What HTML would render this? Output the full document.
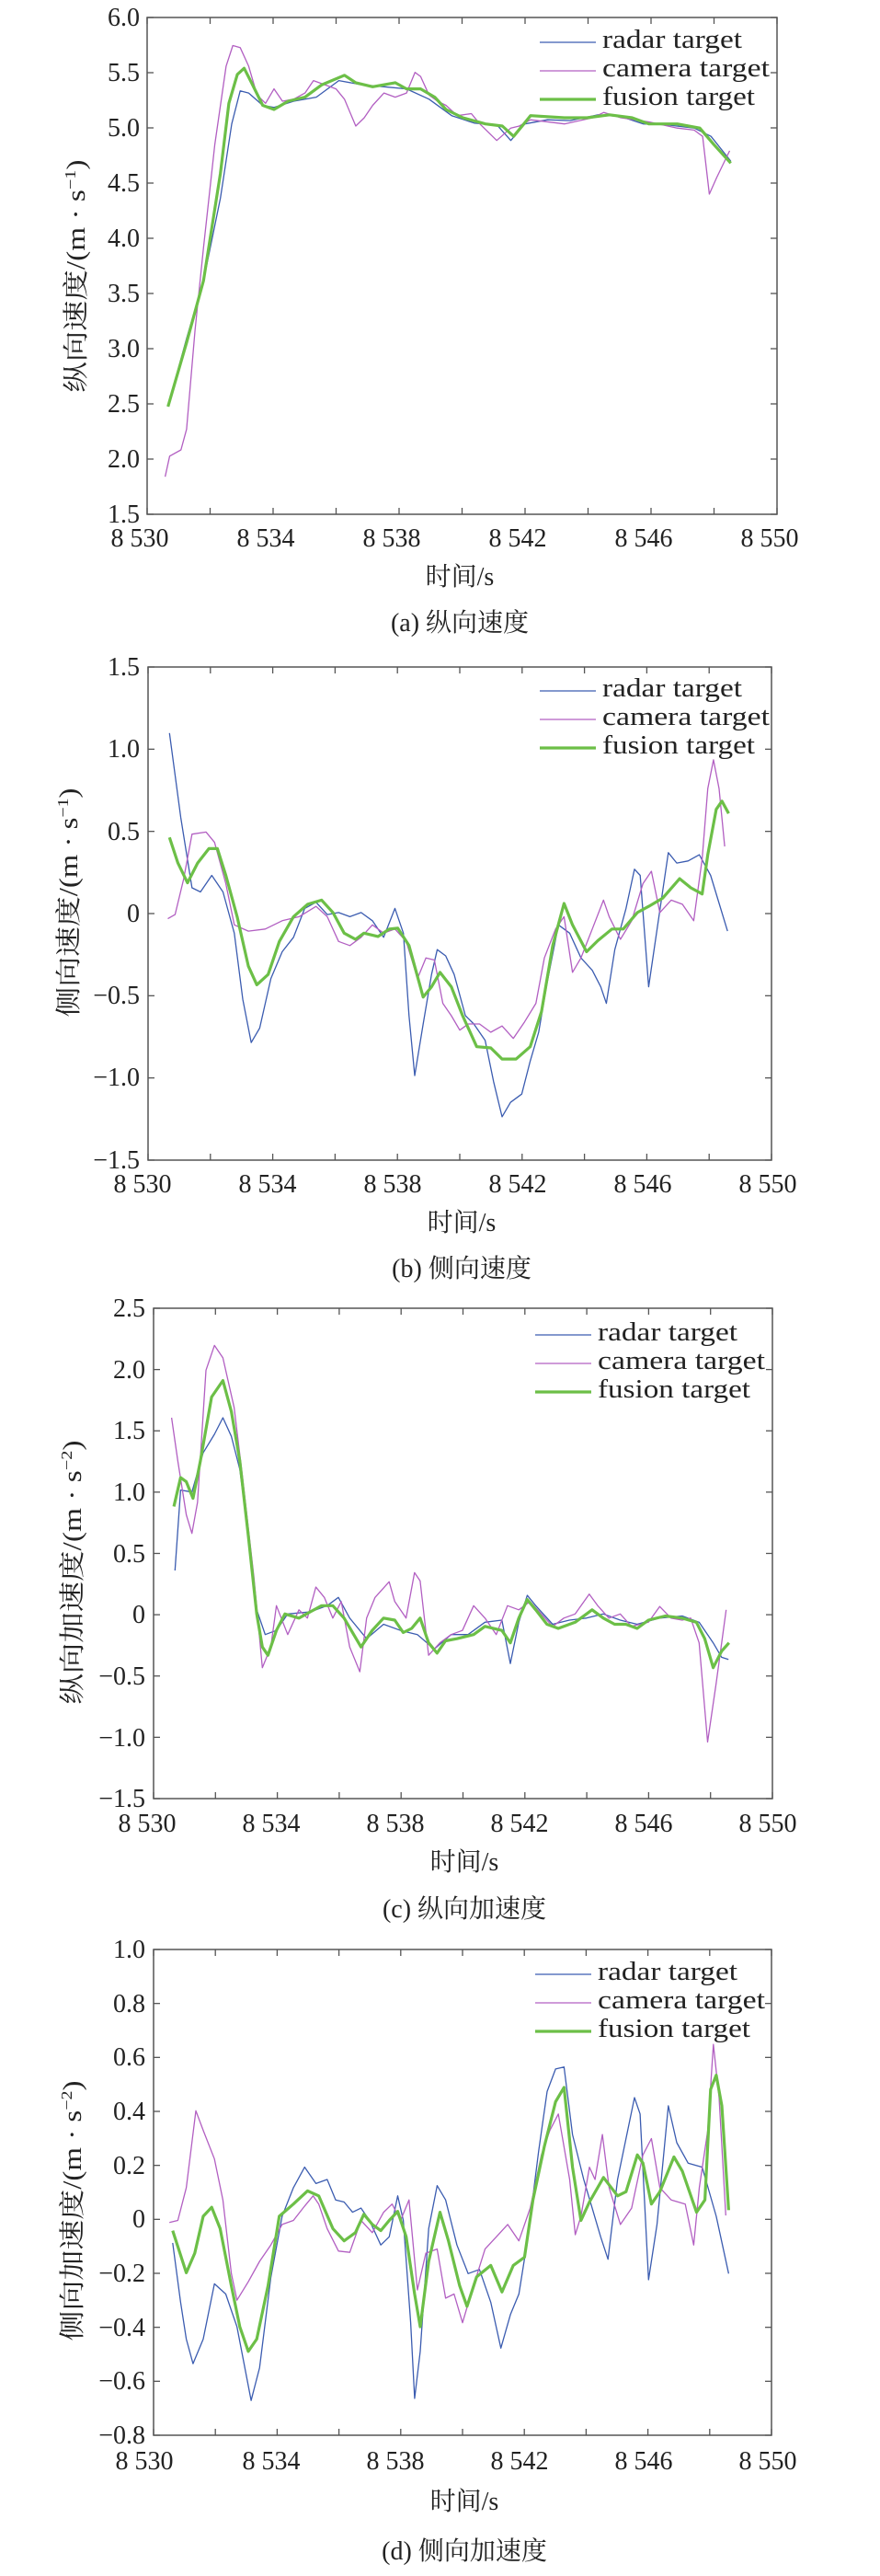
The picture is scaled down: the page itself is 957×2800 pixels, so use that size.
<!DOCTYPE html>
<html><head><meta charset="utf-8"><style>
html,body{margin:0;padding:0;background:#fff}
svg{display:block}
text{font-family:"Liberation Serif","Noto Serif CJK SC",serif;fill:#222}
</style></head><body>
<svg id="s" width="957" height="2800" viewBox="0 0 957 2800" xmlns="http://www.w3.org/2000/svg">
<g id="plots"></g>
<!-- Panel a texts -->
<g font-size="28">
<text x="152" y="28" text-anchor="end">6.0</text>
<text x="152" y="88" text-anchor="end">5.5</text>
<text x="152" y="148" text-anchor="end">5.0</text>
<text x="152" y="208" text-anchor="end">4.5</text>
<text x="152" y="268" text-anchor="end">4.0</text>
<text x="152" y="328" text-anchor="end">3.5</text>
<text x="152" y="388" text-anchor="end">3.0</text>
<text x="152" y="448" text-anchor="end">2.5</text>
<text x="152" y="508" text-anchor="end">2.0</text>
<text x="152" y="568" text-anchor="end">1.5</text>
<text x="152" y="594" text-anchor="middle">8 530</text>
<text x="289" y="594" text-anchor="middle">8 534</text>
<text x="426" y="594" text-anchor="middle">8 538</text>
<text x="563" y="594" text-anchor="middle">8 542</text>
<text x="700" y="594" text-anchor="middle">8 546</text>
<text x="837" y="594" text-anchor="middle">8 550</text>
<text x="500" y="636" text-anchor="middle">时间/s</text>
<text x="500" y="686" text-anchor="middle">(a) 纵向速度</text>
<text transform="translate(92,300) rotate(-90)" text-anchor="middle" textLength="253" lengthAdjust="spacingAndGlyphs">纵向速度/(m · s<tspan font-size="17" dy="-10">−1</tspan><tspan dy="10">)</tspan></text>
<text x="655" y="52" textLength="152" lengthAdjust="spacingAndGlyphs">radar target</text>
<text x="655" y="83" textLength="182" lengthAdjust="spacingAndGlyphs">camera target</text>
<text x="655" y="114" textLength="166" lengthAdjust="spacingAndGlyphs">fusion target</text>
</g>
<!-- Panel b -->
<g font-size="28">
<text x="152" y="734" text-anchor="end">1.5</text>
<text x="152" y="823" text-anchor="end">1.0</text>
<text x="152" y="913" text-anchor="end">0.5</text>
<text x="152" y="1002" text-anchor="end">0</text>
<text x="152" y="1091" text-anchor="end">−0.5</text>
<text x="152" y="1180" text-anchor="end">−1.0</text>
<text x="152" y="1270" text-anchor="end">−1.5</text>
<text x="155" y="1296" text-anchor="middle">8 530</text>
<text x="291" y="1296" text-anchor="middle">8 534</text>
<text x="427" y="1296" text-anchor="middle">8 538</text>
<text x="563" y="1296" text-anchor="middle">8 542</text>
<text x="699" y="1296" text-anchor="middle">8 546</text>
<text x="835" y="1296" text-anchor="middle">8 550</text>
<text x="502" y="1338" text-anchor="middle">时间/s</text>
<text x="502" y="1388" text-anchor="middle">(b) 侧向速度</text>
<text transform="translate(84,981) rotate(-90)" text-anchor="middle" textLength="249" lengthAdjust="spacingAndGlyphs">侧向速度/(m · s<tspan font-size="17" dy="-10">−1</tspan><tspan dy="10">)</tspan></text>
<text x="655" y="757" textLength="152" lengthAdjust="spacingAndGlyphs">radar target</text>
<text x="655" y="788" textLength="182" lengthAdjust="spacingAndGlyphs">camera target</text>
<text x="655" y="819" textLength="166" lengthAdjust="spacingAndGlyphs">fusion target</text>
</g>
<!-- Panel c -->
<g font-size="28">
<text x="158" y="1431" text-anchor="end">2.5</text>
<text x="158" y="1498" text-anchor="end">2.0</text>
<text x="158" y="1564" text-anchor="end">1.5</text>
<text x="158" y="1631" text-anchor="end">1.0</text>
<text x="158" y="1698" text-anchor="end">0.5</text>
<text x="158" y="1764" text-anchor="end">0</text>
<text x="158" y="1831" text-anchor="end">−0.5</text>
<text x="158" y="1898" text-anchor="end">−1.0</text>
<text x="158" y="1964" text-anchor="end">−1.5</text>
<text x="160" y="1991" text-anchor="middle">8 530</text>
<text x="295" y="1991" text-anchor="middle">8 534</text>
<text x="430" y="1991" text-anchor="middle">8 538</text>
<text x="565" y="1991" text-anchor="middle">8 542</text>
<text x="700" y="1991" text-anchor="middle">8 546</text>
<text x="835" y="1991" text-anchor="middle">8 550</text>
<text x="505" y="2033" text-anchor="middle">时间/s</text>
<text x="505" y="2084" text-anchor="middle">(c) 纵向加速度</text>
<text transform="translate(88,1709) rotate(-90)" text-anchor="middle" textLength="287" lengthAdjust="spacingAndGlyphs">纵向加速度/(m · s<tspan font-size="17" dy="-10">−2</tspan><tspan dy="10">)</tspan></text>
<text x="650" y="1457" textLength="152" lengthAdjust="spacingAndGlyphs">radar target</text>
<text x="650" y="1488" textLength="182" lengthAdjust="spacingAndGlyphs">camera target</text>
<text x="650" y="1519" textLength="166" lengthAdjust="spacingAndGlyphs">fusion target</text>
</g>
<!-- Panel d -->
<g font-size="28">
<text x="158" y="2128" text-anchor="end">1.0</text>
<text x="158" y="2187" text-anchor="end">0.8</text>
<text x="158" y="2245" text-anchor="end">0.6</text>
<text x="158" y="2304" text-anchor="end">0.4</text>
<text x="158" y="2363" text-anchor="end">0.2</text>
<text x="158" y="2421" text-anchor="end">0</text>
<text x="158" y="2480" text-anchor="end">−0.2</text>
<text x="158" y="2539" text-anchor="end">−0.4</text>
<text x="158" y="2597" text-anchor="end">−0.6</text>
<text x="158" y="2656" text-anchor="end">−0.8</text>
<text x="157" y="2684" text-anchor="middle">8 530</text>
<text x="295" y="2684" text-anchor="middle">8 534</text>
<text x="430" y="2684" text-anchor="middle">8 538</text>
<text x="565" y="2684" text-anchor="middle">8 542</text>
<text x="700" y="2684" text-anchor="middle">8 546</text>
<text x="835" y="2684" text-anchor="middle">8 550</text>
<text x="505" y="2728" text-anchor="middle">时间/s</text>
<text x="505" y="2782" text-anchor="middle">(d) 侧向加速度</text>
<text transform="translate(88,2403) rotate(-90)" text-anchor="middle" textLength="283" lengthAdjust="spacingAndGlyphs">侧向加速度/(m · s<tspan font-size="17" dy="-10">−2</tspan><tspan dy="10">)</tspan></text>
<text x="650" y="2152" textLength="152" lengthAdjust="spacingAndGlyphs">radar target</text>
<text x="650" y="2183" textLength="182" lengthAdjust="spacingAndGlyphs">camera target</text>
<text x="650" y="2214" textLength="166" lengthAdjust="spacingAndGlyphs">fusion target</text>
</g>
</svg>
<script>
(function(){
var NS="http://www.w3.org/2000/svg",g=document.getElementById("plots");
function el(n,a){var e=document.createElementNS(NS,n);for(var k in a)e.setAttribute(k,a[k]);g.appendChild(e);return e;}
var panels=[
{L:160,R:845,T:19,B:559,pL:260,pR:1377,pT:42,pB:1246,ny:9,lx:587,ly:46,
r:[[297,985],[330,820],[360,680],[390,480],[410,300],[425,220],[440,225],[465,255],[485,260],[520,245],[560,235],[600,195],[640,205],[680,210],[720,215],[760,240],[800,280],[840,298],[880,302],[905,340],[930,300],[970,290],[1010,292],[1060,278],[1100,282],[1140,300],[1180,302],[1230,310],[1260,330],[1295,390]],
c:[[292,1155],[300,1105],[320,1090],[330,1040],[345,800],[360,600],[380,350],[400,160],[412,110],[425,115],[440,160],[455,230],[470,250],[485,215],[500,245],[520,240],[540,225],[555,195],[575,205],[595,215],[610,240],[630,305],[645,285],[660,255],[680,225],[700,235],[720,225],[735,175],[745,185],[760,230],[775,245],[790,255],[810,280],[835,275],[850,300],[880,340],[905,310],[920,305],[940,290],[1000,300],[1050,285],[1070,272],[1100,285],[1150,295],[1200,310],[1230,315],[1245,330],[1257,470],[1270,430],[1293,365]],
f:[[297,985],[330,830],[360,680],[390,420],[405,250],[420,180],[432,165],[445,200],[465,255],[485,265],[510,245],[540,235],[570,205],[610,182],[630,200],[660,210],[700,200],[720,215],[745,215],[770,235],[790,265],[820,285],[860,300],[890,305],[910,330],[940,280],[1000,285],[1040,285],[1080,278],[1120,285],[1150,300],[1200,300],[1240,310],[1265,350],[1295,395]]},
{L:161,R:839,T:725,B:1261,pL:262,pR:1368,pT:55,pB:1250,ny:6,lx:587,ly:751,
r:[[300,215],[320,420],[340,590],[355,600],[375,560],[395,600],[415,700],[430,860],[445,965],[460,930],[480,810],[500,745],[520,710],[540,640],[560,625],[580,655],[600,650],[620,660],[640,650],[660,670],[680,710],[700,640],[715,700],[725,900],[735,1045],[750,920],[765,800],[775,740],[790,755],[805,800],[825,900],[840,920],[860,960],[875,1060],[890,1145],[905,1110],[925,1090],[940,1010],[955,940],[970,820],[990,680],[1010,700],[1030,760],[1050,790],[1065,830],[1075,870],[1090,740],[1110,640],[1125,545],[1135,560],[1150,830],[1165,690],[1185,505],[1200,530],[1220,525],[1240,510],[1260,560],[1290,695]],
c:[[297,665],[310,655],[325,570],[340,460],[365,455],[380,480],[400,580],[415,680],[440,695],[470,690],[500,670],[530,660],[560,635],[580,660],[600,720],[620,730],[640,710],[660,680],[680,700],[700,690],[720,720],[740,810],[755,760],[770,765],[785,870],[800,900],[815,935],[830,920],[850,920],[870,940],[890,925],[910,955],[930,915],[950,870],[965,760],[985,690],[1000,660],[1015,795],[1030,760],[1050,690],[1070,620],[1080,660],[1100,715],[1120,670],[1140,580],[1155,550],[1170,650],[1190,620],[1210,630],[1230,670],[1245,520],[1255,350],[1265,280],[1275,350],[1285,490]],
f:[[300,468],[315,530],[332,578],[350,530],[370,495],[385,495],[400,560],[420,660],[440,780],[455,825],[475,800],[495,720],[520,660],[545,630],[570,620],[590,650],[610,700],[630,715],[645,700],[670,708],[690,690],[705,688],[725,730],[750,855],[765,830],[780,795],[800,830],[820,900],[845,975],[870,978],[890,1005],[915,1005],[940,975],[960,890],[980,730],[1000,628],[1015,680],[1040,745],[1060,718],[1085,690],[1105,690],[1130,650],[1150,635],[1175,615],[1205,568],[1225,590],[1245,605],[1255,510],[1270,400],[1280,380],[1292,410]]},
{L:167,R:840,T:1422,B:1955,pL:272,pR:1370,pT:50,pB:1237,ny:8,lx:582,ly:1451,
r:[[310,685],[320,490],[340,495],[360,400],[380,355],[395,315],[410,360],[425,440],[440,600],[455,780],[470,840],[490,830],[510,790],[550,785],[580,770],[600,750],[620,800],[650,850],[680,815],[710,830],[740,840],[770,875],[800,840],[830,840],[860,810],[890,805],[905,910],[920,810],[935,745],[950,770],[980,815],[1010,805],[1040,800],[1070,790],[1100,805],[1130,815],[1170,800],[1210,795],[1240,810],[1265,860],[1280,895],[1292,900]],
c:[[304,315],[315,420],[330,550],[340,595],[350,520],[365,200],[380,140],[395,170],[415,290],[430,460],[450,700],[465,920],[480,870],[490,770],[510,840],[530,780],[545,800],[560,725],[575,750],[590,800],[605,760],[620,870],[638,930],[650,800],[665,750],[690,712],[700,760],[720,800],[735,690],[745,710],[760,890],[780,860],[800,840],[820,830],[840,770],[860,800],[880,840],[900,770],[920,780],[940,760],[960,790],[980,820],[1000,800],[1020,790],[1045,742],[1060,770],[1080,800],[1100,790],[1120,820],[1150,810],[1170,772],[1190,800],[1210,805],[1225,800],[1240,860],[1255,1100],[1270,960],[1288,780]],
f:[[308,530],[320,460],[330,470],[342,510],[355,420],[375,265],[395,225],[410,300],[425,420],[440,600],[455,790],[465,870],[475,890],[490,830],[505,790],[530,800],[550,785],[570,770],[590,770],[610,800],[640,870],[660,830],[680,800],[700,805],[715,835],[730,825],[745,800],[760,860],[775,885],[790,855],[810,850],[840,840],[860,820],[890,830],[905,860],[920,800],[935,755],[950,780],[970,815],[990,825],[1020,810],[1050,780],[1070,800],[1090,815],[1110,815],[1130,825],[1150,805],[1180,795],[1210,800],[1235,810],[1250,850],[1265,920],[1280,880],[1293,860]]},
{L:167,R:839,T:2119,B:2647,pL:272,pR:1368,pT:38,pB:1225,ny:9,lx:582,ly:2146,
r:[[306,755],[320,900],[330,990],[342,1050],[360,990],[380,855],[400,880],[420,960],[445,1140],[460,1060],[480,840],[500,690],[520,620],[540,570],[560,610],[580,600],[595,650],[610,655],[625,680],[640,670],[655,700],[675,760],[690,740],[705,640],[715,700],[728,950],[735,1135],[745,1020],[760,720],[775,615],[790,650],[810,760],[830,830],[850,820],[870,900],[888,1012],[905,930],[920,880],[935,750],[955,530],[970,385],[985,330],[1000,325],[1015,490],[1035,600],[1050,670],[1065,740],[1078,795],[1095,600],[1110,500],[1125,400],[1135,440],[1150,845],[1165,710],[1185,420],[1200,510],[1220,560],[1245,570],[1270,690],[1292,830]],
c:[[300,705],[315,700],[330,620],[347,432],[360,480],[380,550],[395,650],[410,830],[420,895],[440,850],[460,800],[480,760],[500,710],[520,700],[540,665],[555,640],[565,660],[580,720],[600,775],[620,778],[640,700],[660,730],[680,680],[695,660],[710,700],[725,650],[740,870],[755,780],[775,770],[790,890],[805,880],[820,950],[835,880],[860,770],[880,740],[900,710],[920,750],[940,670],[960,540],[975,480],[990,440],[1010,600],[1020,735],[1030,690],[1045,570],[1055,600],[1068,490],[1080,620],[1100,710],[1120,670],[1140,540],[1155,500],[1170,620],[1190,650],[1215,660],[1230,760],[1240,620],[1255,480],[1265,270],[1275,400],[1287,688]],
f:[[306,725],[330,828],[345,780],[360,690],[375,668],[390,720],[410,860],[425,960],[440,1020],[455,990],[475,860],[495,690],[520,660],[545,628],[565,640],[590,720],[610,750],[630,730],[645,685],[660,710],[675,725],[690,700],[705,678],[720,740],[735,880],[745,960],[760,800],[780,680],[795,750],[815,860],[828,910],[845,838],[870,810],[890,875],[910,810],[930,790],[945,650],[965,520],[985,410],[1000,375],[1015,570],[1030,700],[1045,655],[1070,595],[1095,640],[1110,630],[1130,540],[1140,560],[1155,660],[1170,630],[1195,545],[1210,580],[1235,680],[1250,650],[1260,380],[1270,345],[1280,420],[1292,675]]}
];
panels.forEach(function(p){
  function mp(pt){return (p.L+(pt[0]-p.pL)/(p.pR-p.pL)*(p.R-p.L)).toFixed(1)+","+(p.T+(pt[1]-p.pT)/(p.pB-p.pT)*(p.B-p.T)).toFixed(1);}
  el("polyline",{points:p.r.map(mp).join(" "),fill:"none",stroke:"#3b5cb0","stroke-width":1.3,"stroke-linejoin":"round"});
  el("polyline",{points:p.c.map(mp).join(" "),fill:"none",stroke:"#b25fc2","stroke-width":1.3,"stroke-linejoin":"round"});
  el("polyline",{points:p.f.map(mp).join(" "),fill:"none",stroke:"#6cbf47","stroke-width":3.2,"stroke-linejoin":"round"});
  el("rect",{x:p.L,y:p.T,width:p.R-p.L,height:p.B-p.T,fill:"none",stroke:"#555","stroke-width":1.5});
  for(var i=0;i<=10;i++){var x=p.L+i*(p.R-p.L)/10;
    el("line",{x1:x,y1:p.B,x2:x,y2:p.B-7,stroke:"#555","stroke-width":1.3});
    el("line",{x1:x,y1:p.T,x2:x,y2:p.T+7,stroke:"#555","stroke-width":1.3});}
  for(var j=0;j<=p.ny;j++){var y=p.T+j*(p.B-p.T)/p.ny;
    el("line",{x1:p.L,y1:y,x2:p.L+7,y2:y,stroke:"#555","stroke-width":1.3});
    el("line",{x1:p.R,y1:y,x2:p.R-7,y2:y,stroke:"#555","stroke-width":1.3});}
  el("line",{x1:p.lx,y1:p.ly,x2:p.lx+61,y2:p.ly,stroke:"#3b5cb0","stroke-width":1.3});
  el("line",{x1:p.lx,y1:p.ly+31,x2:p.lx+61,y2:p.ly+31,stroke:"#b25fc2","stroke-width":1.3});
  el("line",{x1:p.lx,y1:p.ly+62,x2:p.lx+61,y2:p.ly+62,stroke:"#6cbf47","stroke-width":3.2});
});
})();
</script>
</body></html>
